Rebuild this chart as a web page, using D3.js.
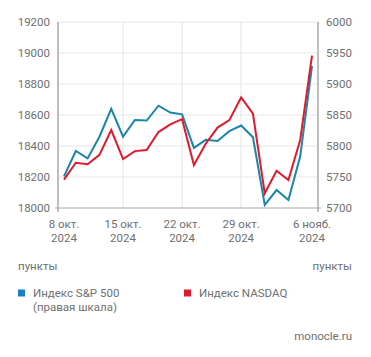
<!DOCTYPE html>
<html><head><meta charset="utf-8">
<script src="https://cdn.jsdelivr.net/npm/d3@7"></script>
<style>
html,body{margin:0;padding:0;background:#fff;}
svg{display:block;font-family:Roboto,"Open Sans",sans-serif;}
</style></head>
<body><svg id="c" width="371" height="357"></svg>
<script>
const dates = ["2024-10-08","2024-10-09","2024-10-10","2024-10-11","2024-10-14","2024-10-15","2024-10-16","2024-10-17","2024-10-18","2024-10-21","2024-10-22","2024-10-23","2024-10-24","2024-10-25","2024-10-28","2024-10-29","2024-10-30","2024-10-31","2024-11-01","2024-11-04","2024-11-05","2024-11-06"];
const sp500 = [5751,5792,5780,5815,5860,5815,5842,5841,5865,5854,5851,5797,5810,5808,5824,5833,5814,5705,5729,5713,5783,5929];
const nasdaq = [18183,18292,18282,18343,18503,18316,18367,18374,18490,18540,18573,18277,18415,18519,18567,18713,18608,18095,18240,18180,18439,18983];
const xTickDates = ["2024-10-08","2024-10-15","2024-10-22","2024-10-29","2024-11-06"];
const xTickLabels = [["8 окт.","2024"],["15 окт.","2024"],["22 окт.","2024"],["29 окт.","2024"],["6 нояб.","2024"]];
const leftTicks = [18000,18200,18400,18600,18800,19000,19200];
const rightTicks = [5700,5750,5800,5850,5900,5950,6000];
const unitLabel = "пункты";
const legendLabels = [["Индекс S&P 500","(правая шкала)"],["Индекс NASDAQ"]];
const source = "monocle.ru";

const colBlue = "#1a86a8", colRed = "#e01a2e", colBlueSq = "#1b7fbf";
const textCol = "#707070", axisCol = "#a8a8a8", gridCol = "#e8e8e8";
const fs = 11.5, lh = 13.6;

const svg = d3.select("#c");
const L = 58, R = 318, T = 22, B = 208;
const x = d3.scalePoint().domain(dates).range([64, 312]);
const yL = d3.scaleLinear().domain([18000,19200]).range([B,T]);
const yR = d3.scaleLinear().domain([5700,6000]).range([B,T]);

// horizontal grid
svg.append("g").selectAll("line").data(leftTicks.slice(1)).join("line")
  .attr("x1",L).attr("x2",R).attr("y1",d=>yL(d)).attr("y2",d=>yL(d))
  .attr("stroke",gridCol).attr("stroke-width",1.2);
// vertical grid
svg.append("g").selectAll("line").data(xTickDates.slice(1,4)).join("line")
  .attr("x1",d=>x(d)).attr("x2",d=>x(d)).attr("y1",T).attr("y2",B)
  .attr("stroke",gridCol).attr("stroke-width",1.2);

// axes lines
svg.append("line").attr("x1",L).attr("x2",L).attr("y1",T).attr("y2",B+4).attr("stroke",axisCol).attr("stroke-width",1.5);
svg.append("line").attr("x1",R).attr("x2",R).attr("y1",T).attr("y2",B+4).attr("stroke",axisCol).attr("stroke-width",1.5);
svg.append("line").attr("x1",L-3).attr("x2",R+3).attr("y1",B).attr("y2",B).attr("stroke",axisCol).attr("stroke-width",1.2);

// y labels
svg.append("g").selectAll("text").data(leftTicks).join("text")
  .attr("x",50).attr("y",d=>yL(d)).attr("dy","0.36em").attr("text-anchor","end")
  .attr("font-size",fs).attr("fill",textCol).text(d=>d);
svg.append("g").selectAll("text").data(rightTicks).join("text")
  .attr("x",326).attr("y",d=>yR(d)).attr("dy","0.36em").attr("text-anchor","start")
  .attr("font-size",fs).attr("fill",textCol).text(d=>d);

// x labels
const xl = svg.append("g").selectAll("text").data(xTickDates).join("text")
  .attr("text-anchor","middle").attr("font-size",fs).attr("fill",textCol);
xl.each(function(d,i){
  const t = d3.select(this);
  xTickLabels[i].forEach((s,j)=>{
    t.append("tspan").attr("x",x(d)).attr("y",228.3+j*lh).text(s);
  });
});

// lines
const lineL = d3.line().x((d,i)=>x(dates[i])).y(d=>yL(d));
const lineR = d3.line().x((d,i)=>x(dates[i])).y(d=>yR(d));
svg.append("path").attr("d",lineR(sp500)).attr("fill","none").attr("stroke",colBlue).attr("stroke-width",2).attr("stroke-linejoin","miter");
svg.append("path").attr("d",lineL(nasdaq)).attr("fill","none").attr("stroke",colRed).attr("stroke-width",2).attr("stroke-linejoin","miter");

// units
svg.append("text").attr("x",18).attr("y",270).attr("font-size",fs).attr("fill",textCol).text(unitLabel);
svg.append("text").attr("x",352).attr("y",270).attr("text-anchor","end").attr("font-size",fs).attr("fill",textCol).text(unitLabel);

// legend
const lg = [{x:18,c:colBlueSq},{x:184,c:colRed}];
lg.forEach((g,i)=>{
  svg.append("rect").attr("x",g.x).attr("y",289.5).attr("width",7).attr("height",7).attr("fill",g.c);
  const t = svg.append("text").attr("font-size",fs).attr("fill",textCol);
  legendLabels[i].forEach((s,j)=>{
    t.append("tspan").attr("x",g.x+15).attr("y",297.3+j*lh).text(s);
  });
});

svg.append("text").attr("x",352).attr("y",340).attr("text-anchor","end").attr("font-size",fs).attr("fill",textCol).text(source);
</script></body></html>
